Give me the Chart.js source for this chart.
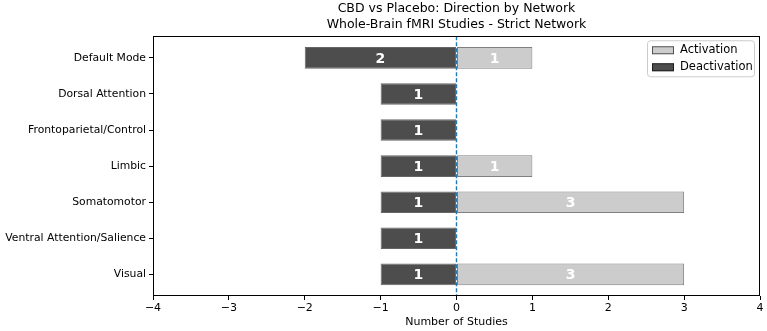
<!DOCTYPE html>
<html>
<head>
<meta charset="utf-8">
<script src="https://cdn.jsdelivr.net/npm/chart.js@4.4.1/dist/chart.umd.min.js"></script>
<style>
  html, body { margin: 0; padding: 0; background: #fff; }
  #wrap { width: 767px; height: 331px; position: relative; }
</style>
</head>
<body>
<div id="wrap"><canvas id="networkChart"></canvas></div>
<script>
// CBD vs Placebo - direction of effect per network

const categories = [
  'Default Mode',
  'Dorsal Attention',
  'Frontoparietal/Control',
  'Limbic',
  'Somatomotor',
  'Ventral Attention/Salience',
  'Visual'
];
const activation = [1, null, null, 1, 3, null, 3];
const deactivation = [-2, -1, -1, -1, -1, -1, -1];
const xTicks = [-4, -3, -2, -1, 0, 1, 2, 3, 4];
const titleLines = ['CBD vs Placebo: Direction by Network', 'Whole-Brain fMRI Studies - Strict Network'];

const FONT = 'DejaVu Sans, Verdana, sans-serif';
const actColor = '#cccccc';
const deactColor = '#4d4d4d';

function toPoints(values) {
  const pts = [];
  values.forEach((v, i) => {
    if (v !== null && v !== undefined) pts.push({ x: v, y: i });
  });
  return pts;
}

// frame, zero line, bar labels and legend box
const decorations = {
  id: 'decorations',
  afterDatasetsDraw(chart) {
    const { ctx, chartArea, scales } = chart;
    ctx.save();
    // value labels inside each bar
    ctx.font = 'bold 14px ' + FONT;
    ctx.fillStyle = '#fff';
    ctx.textAlign = 'center';
    ctx.textBaseline = 'middle';
    chart.data.datasets.forEach((ds, di) => {
      const meta = chart.getDatasetMeta(di);
      meta.data.forEach((bar, i) => {
        const v = ds.data[i].x;
        ctx.fillText(String(Math.abs(v)), (bar.x + bar.base) / 2, bar.y + 1);
      });
    });

    // dashed zero line on top of the bars
    const x0 = scales.x.getPixelForValue(0);
    ctx.strokeStyle = '#1f77b4';
    ctx.lineWidth = 1.4;
    ctx.setLineDash([4, 2]);
    ctx.beginPath();
    ctx.moveTo(x0, chartArea.top);
    ctx.lineTo(x0, chartArea.bottom);
    ctx.stroke();

    // box around plot
    ctx.strokeStyle = '#000';
    ctx.lineWidth = 1;
    ctx.setLineDash([]);
    ctx.strokeRect(Math.round(chartArea.left) + 0.5, Math.round(chartArea.top) + 0.5,
      Math.round(chartArea.right - chartArea.left) - 1, Math.round(chartArea.bottom - chartArea.top) - 1);

    // legend, upper right inside the plot
    const items = [chart.data.datasets[0], chart.data.datasets[1]];
    const bw = 107, bh = 36;
    const bx = chartArea.right - 6 - bw, by = chartArea.top + 4;
    ctx.beginPath();
    ctx.roundRect(bx + 0.5, by + 0.5, bw, bh, 3);
    ctx.fillStyle = 'rgba(255,255,255,0.8)';
    ctx.fill();
    ctx.strokeStyle = '#cccccc';
    ctx.stroke();
    ctx.font = '11.5px ' + FONT;
    ctx.textAlign = 'left';
    ctx.textBaseline = 'middle';
    items.forEach((ds, k) => {
      const cy = by + 10 + k * 17;
      ctx.fillStyle = ds.backgroundColor;
      ctx.fillRect(bx + 5, cy - 4, 22, 8);
      ctx.strokeStyle = 'rgba(0,0,0,0.6)';
      ctx.strokeRect(bx + 5.5, cy - 3.5, 21, 7);
      ctx.fillStyle = '#000';
      ctx.fillText(ds.label, bx + 33, cy);
    });
    ctx.restore();
  }
};

new Chart(document.getElementById('networkChart'), {
  type: 'bar',
  data: {
    datasets: [
      {
        label: 'Activation',
        data: toPoints(activation),
        backgroundColor: actColor,
        borderColor: 'rgba(0,0,0,0.5)',
        borderWidth: 1,
        borderSkipped: false,
        grouped: false,
        barPercentage: 0.6,
        categoryPercentage: 1
      },
      {
        label: 'Deactivation',
        data: toPoints(deactivation),
        backgroundColor: deactColor,
        borderColor: 'rgba(0,0,0,0.6)',
        borderWidth: 1,
        borderSkipped: false,
        grouped: false,
        barPercentage: 0.6,
        categoryPercentage: 1
      }
    ]
  },
  options: {
    indexAxis: 'y',
    responsive: true,
    maintainAspectRatio: false,
    animation: false,
    layout: { padding: { left: 0, right: 7, top: 0, bottom: 0 } },
    plugins: {
      legend: { display: false },
      tooltip: { enabled: false },
      title: {
        display: true,
        fullSize: false,
        text: titleLines,
        color: '#000',
        font: { family: FONT, size: 12.5, weight: 'normal', lineHeight: 1.25 },
        padding: { top: 1, bottom: 4 }
      }
    },
    scales: {
      x: {
        type: 'linear',
        min: -4,
        max: 4,
        afterBuildTicks: axis => { axis.ticks = xTicks.map(v => ({ value: v })); },
        afterFit: axis => { axis.height = 35; },
        border: { display: false },
        grid: { drawOnChartArea: false, drawTicks: true, tickLength: 4, tickColor: '#000' },
        ticks: {
          color: '#000',
          padding: 2,
          maxRotation: 0,
          font: { family: FONT, size: 11 },
          callback: v => String(v).replace('-', '\u2212')
        },
        title: {
          display: true,
          text: 'Number of Studies',
          color: '#000',
          font: { family: FONT, size: 11 },
          padding: { top: 0, bottom: 2 }
        }
      },
      y: {
        type: 'linear',
        reverse: true,
        offset: false,
        min: -0.6,
        max: 6.6,
        afterBuildTicks: axis => { axis.ticks = categories.map((c, i) => ({ value: i })); },
        afterFit: axis => { axis.width = 153; },
        border: { display: false },
        grid: { offset: false, drawOnChartArea: false, drawTicks: true, tickLength: 4, tickColor: '#000' },
        ticks: {
          color: '#000',
          padding: 3,
          font: { family: FONT, size: 10.8 },
          callback: v => categories[v]
        }
      }
    }
  },
  plugins: [decorations]
});
</script>
</body>
</html>
